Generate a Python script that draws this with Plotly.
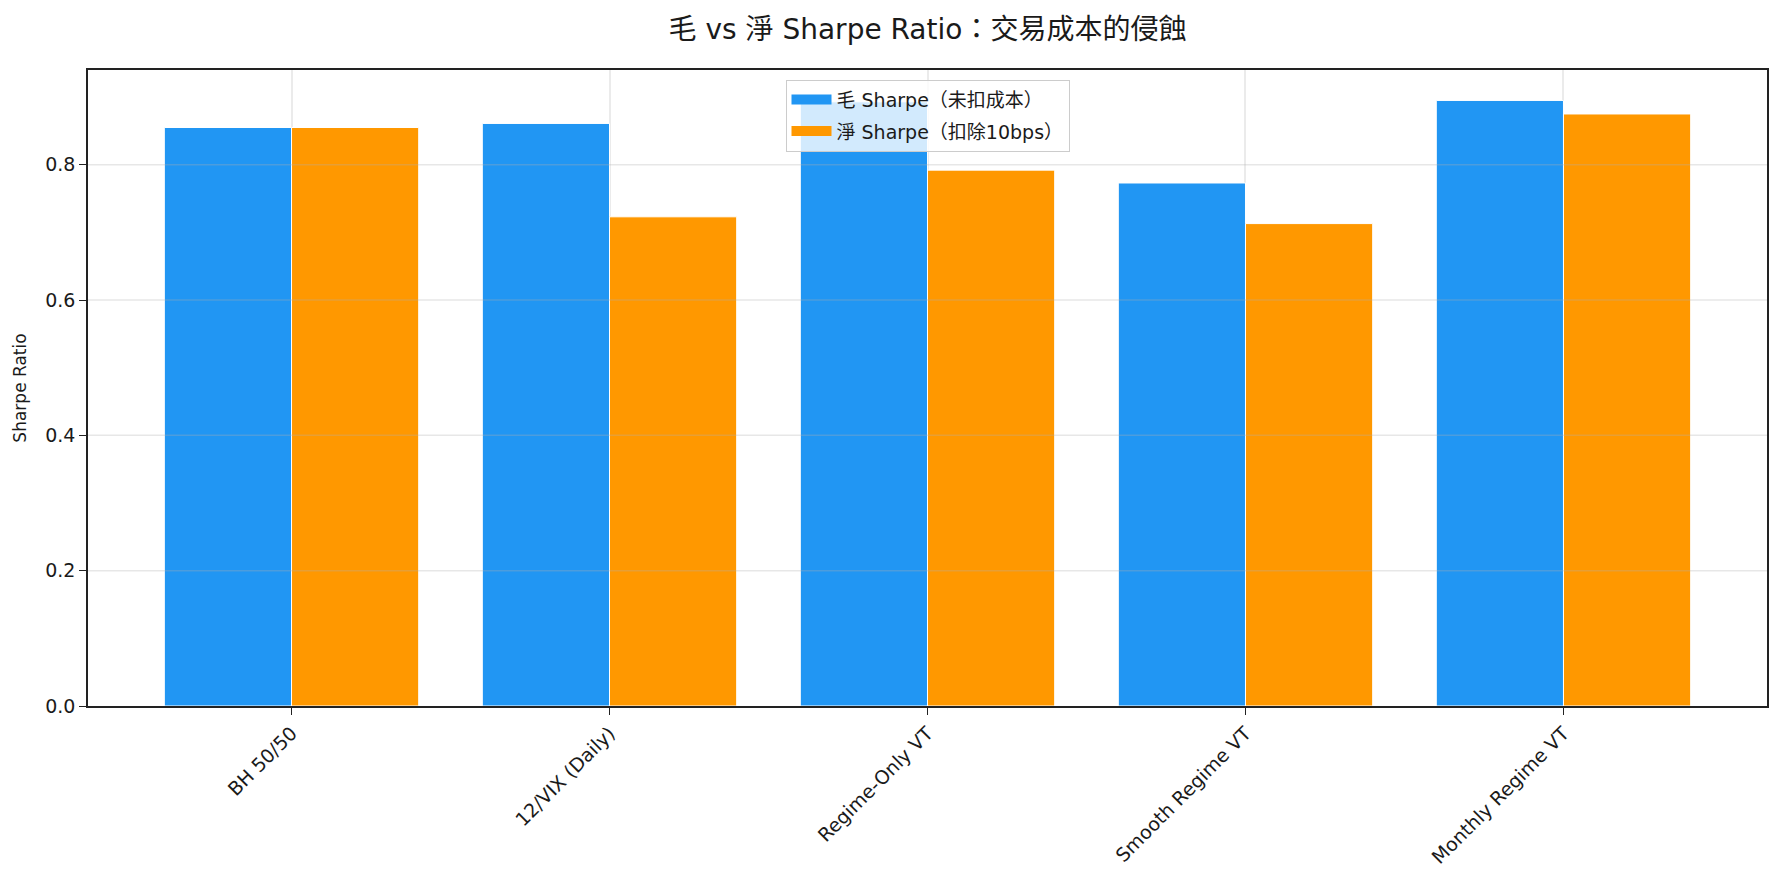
import plotly.graph_objects as go

categories = ["BH 50/50", "12/VIX (Daily)", "Regime-Only VT", "Smooth Regime VT", "Monthly Regime VT"]
gross_sharpe = [0.855, 0.861, 0.893, 0.773, 0.895]
net_sharpe = [0.855, 0.723, 0.792, 0.713, 0.875]
series_names = ["毛 Sharpe（未扣成本）", "淨 Sharpe（扣除10bps）"]
series_colors = ["#2196F3", "#FF9800"]
y_ticks = [0.0, 0.2, 0.4, 0.6, 0.8]
y_tick_labels = ["0.0", "0.2", "0.4", "0.6", "0.8"]

FONT = "DejaVu Sans, Noto Sans CJK TC, sans-serif"

fig = go.Figure()
for vals, name, color in zip([gross_sharpe, net_sharpe], series_names, series_colors):
    fig.add_trace(go.Bar(x=categories, y=vals, name=name, showlegend=False,
                         legendgroup=name,
                         marker=dict(color=color, line=dict(color="white", width=1))))
# legend entries with wide rectangular swatches (legend only, no data drawn)
for name, color in zip(series_names, series_colors):
    fig.add_trace(go.Scatter(x=[None], y=[None], mode="lines", name=name,
                             legendgroup=name,
                             line=dict(color=color, width=14)))

# grid lines drawn above bars (as in the reference)
for v in y_ticks[1:]:
    fig.add_shape(type="line", xref="paper", yref="y", x0=0, x1=1, y0=v, y1=v,
                  line=dict(color="rgba(176,176,176,0.3)", width=1.5), layer="above")

fig.update_layout(
    width=1782, height=883,
    paper_bgcolor="white", plot_bgcolor="white",
    barmode="group", bargap=0.2, bargroupgap=0,
    margin=dict(l=88, r=15, t=70, b=177),
    font=dict(family=FONT, size=19, color="#1a1a1a"),
    title=dict(text="毛 vs 淨 Sharpe Ratio：交易成本的侵蝕", x=0.5, xanchor="center",
               xref="paper",
               y=1 - 29.5 / 883, yanchor="middle", yref="container",
               font=dict(family=FONT, size=28, color="#1a1a1a")),
    legend=dict(x=0.5, xanchor="center", y=0.985, yanchor="top",
                bgcolor="rgba(255,255,255,0.8)", bordercolor="#cccccc", borderwidth=1,
                font=dict(family=FONT, size=19, color="#1a1a1a"),
                itemwidth=40, tracegroupgap=4),
    showlegend=True,
)
fig.update_xaxes(range=[-0.64, 4.64], tickangle=-45, showline=True, mirror=True,
                 linecolor="#222222", linewidth=1.5, ticks="outside", ticklen=7,
                 tickcolor="#222222", showgrid=True, gridcolor="#ebebeb", gridwidth=1.5,
                 tickfont=dict(size=19), automargin=False)
fig.update_yaxes(range=[0, 0.94], tickvals=y_ticks, ticktext=y_tick_labels,
                 showline=True, mirror=True, linecolor="#222222", linewidth=1.5,
                 ticks="outside", ticklen=7, tickcolor="#222222", showgrid=False,
                 zeroline=False, tickfont=dict(size=19), automargin=False,
                 title=dict(text="Sharpe Ratio", font=dict(size=17), standoff=14))

fig.write_html("out.html")
